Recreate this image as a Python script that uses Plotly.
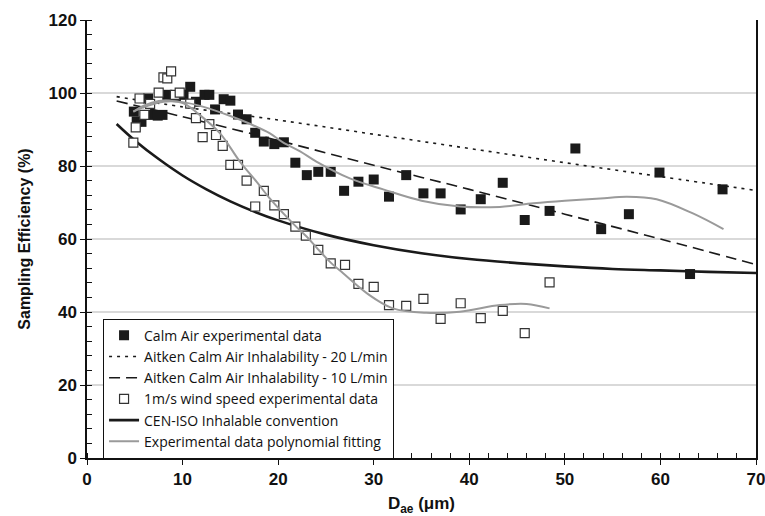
import plotly.graph_objects as go

# Calm air experimental data (filled squares)
calm_d = [4.9, 5.2, 5.7, 6.4, 6.9, 7.4, 7.9, 8.4, 9.3, 10.1, 10.8, 11.4, 12.3, 12.8, 13.4, 14.3, 15.0,
          15.8, 16.7, 17.6, 18.5, 19.6, 20.6, 21.8, 23.0, 24.2, 25.5, 26.9, 28.4, 30.0, 31.6, 33.4,
          35.2, 37.0, 39.1, 41.2, 43.5, 45.8, 48.4, 51.1, 53.8, 56.7, 59.9, 63.1, 66.5]
calm_e = [94.9, 92.2, 92.1, 98.5, 94.0, 93.8, 94.0, 99.5, 99.0, 99.5, 101.7, 97.6, 99.5, 99.5, 95.5, 98.3, 97.9,
          94.1, 92.8, 89.1, 86.7, 86.0, 86.5, 80.9, 77.5, 78.4, 78.4, 73.2, 75.7, 76.3, 71.6, 77.5,
          72.5, 72.5, 68.1, 70.9, 75.4, 65.2, 67.7, 84.8, 62.7, 66.8, 78.2, 50.4, 73.6]

# 1 m/s wind speed experimental data (hollow squares)
wind_d = [4.85, 5.1, 5.5, 6.0, 6.6, 7.5, 8.0, 8.4, 8.8, 9.2, 9.7, 10.8, 11.4, 12.1, 12.8, 13.5, 14.2,
          15.0, 15.8, 16.7, 17.6, 18.5, 19.6, 20.6, 21.8, 22.9, 24.2, 25.5, 27.0, 28.4, 30.0, 31.6,
          33.4, 35.2, 37.0, 39.1, 41.2, 43.5, 45.8, 48.4]
wind_e = [86.4, 90.6, 98.5, 94.0, 97.0, 100.1, 104.3, 104.0, 105.9, 99.5, 100.1, 97.1, 93.1, 87.9, 91.5, 88.5, 85.5,
          80.3, 80.3, 76.0, 68.9, 73.2, 69.2, 66.8, 63.4, 60.9, 57.0, 53.3, 52.9, 47.7, 46.9, 41.9,
          41.7, 43.6, 38.1, 42.4, 38.3, 40.3, 34.2, 48.1]

# Aitken calm air inhalability curves
aitken_d = [3.1, 10, 20, 30, 40, 50, 60, 70]
aitken20_e = [99.0, 96.2, 92.6, 88.7, 84.8, 80.9, 77.1, 73.3]
aitken10_e = [97.8, 93.5, 87.0, 80.2, 73.6, 66.8, 60.0, 53.0]

# CEN-ISO inhalable convention
cen_d = [3.1, 5, 7.5, 10, 12.5, 15, 17.5, 20, 25, 30, 35, 40, 45, 50, 55, 60, 65, 70]
cen_e = [91.5, 87.0, 81.9, 77.4, 73.6, 70.3, 67.5, 65.1, 61.2, 58.3, 56.1, 54.5, 53.4, 52.5, 51.8, 51.4, 51.0, 50.7]

# Polynomial fittings
fitc_d = [4.85, 6.5, 8.0, 10.0, 12.2, 15.0, 17.1, 19.1, 20.5, 22.3, 24.0, 27.5, 31.0, 35.0, 39.0, 43.2, 46.7, 50.0, 53.7, 56.5, 59.6, 63.4, 66.6]
fitc_e = [94.9, 96.6, 97.6, 97.5, 96.2, 93.7, 91.5, 89.0, 86.5, 84.0, 81.2, 76.6, 73.6, 70.5, 68.9, 68.8, 69.8, 70.5, 71.1, 71.6, 70.9, 67.0, 62.7]
fitw_d = [4.85, 6.0, 7.5, 8.7, 10.1, 11.5, 13.9, 16.0, 17.8, 19.1, 21.8, 23.0, 24.0, 25.4, 26.8, 29.3, 32.0, 35.5, 39.0, 43.2, 46.0, 48.4]
fitw_e = [94.9, 96.6, 97.8, 97.9, 97.2, 94.6, 89.0, 81.2, 75.5, 71.2, 63.6, 60.6, 57.7, 53.8, 50.6, 45.1, 41.0, 39.8, 40.1, 41.9, 42.2, 41.0]

x_ticks = [0, 10, 20, 30, 40, 50, 60, 70]
y_ticks = [0, 20, 40, 60, 80, 100, 120]
grid_vals = [20, 40, 60, 80, 100]

BLACK = "#1a1a1a"
GRAY = "#9a9a9a"
fig = go.Figure()

fig.add_trace(go.Scatter(x=cen_d, y=cen_e, mode="lines", name="CEN-ISO Inhalable convention",
                         line=dict(color=BLACK, width=2.6, shape="spline"), legendrank=5))
fig.add_trace(go.Scatter(x=aitken_d, y=aitken20_e, mode="lines", name="Aitken Calm Air Inhalability - 20 L/min",
                         line=dict(color=BLACK, width=1.6, dash="3px,5px", shape="spline"), legendrank=2))
fig.add_trace(go.Scatter(x=aitken_d, y=aitken10_e, mode="lines", name="Aitken Calm Air Inhalability - 10 L/min",
                         line=dict(color=BLACK, width=1.6, dash="11px,6px", shape="spline"), legendrank=3))
fig.add_trace(go.Scatter(x=calm_d, y=calm_e, mode="markers", name="Calm Air experimental data",
                         marker=dict(symbol="square", size=10, color=BLACK, line=dict(color=BLACK, width=0)),
                         legendrank=1))
fig.add_trace(go.Scatter(x=wind_d, y=wind_e, mode="markers", name="1m/s wind speed experimental data",
                         marker=dict(symbol="square", size=9, color="white", line=dict(color="#333333", width=1.2)),
                         legendrank=4))
fig.add_trace(go.Scatter(x=fitc_d, y=fitc_e, mode="lines", name="Experimental data polynomial fitting",
                         line=dict(color=GRAY, width=2, shape="spline"), legendrank=6))
fig.add_trace(go.Scatter(x=fitw_d, y=fitw_e, mode="lines", name="Experimental data polynomial fitting",
                         line=dict(color=GRAY, width=2, shape="spline"), showlegend=False, legendrank=7))
# invisible trace that activates the gridline axis
fig.add_trace(go.Scatter(x=[None], y=[None], yaxis="y2", showlegend=False, hoverinfo="skip"))

tickfont = dict(family="Liberation Sans, Arial", size=17, color="#111111", weight="bold")

fig.update_layout(
    width=765, height=516,
    margin=dict(l=87, r=9, t=20, b=58),
    paper_bgcolor="white", plot_bgcolor="white",
    showlegend=True,
    legend=dict(x=0.024, y=0.318, xanchor="left", yanchor="top",
                bgcolor="white", bordercolor="#111111", borderwidth=1,
                font=dict(family="Open Sans, Liberation Sans, Arial", size=14, color="#111111"),
                tracegroupgap=0, itemwidth=30),
    xaxis=dict(range=[0, 70], tickvals=x_ticks, ticks="outside", ticklen=5, tickwidth=1.2, tickcolor="#111111",
               showline=True, linecolor="#111111", linewidth=1.5, showgrid=False, zeroline=False,
               tickfont=tickfont, automargin=False, ticklabeloverflow="allow",
               minor=dict(dtick=2, ticks="inside", ticklen=5, tickcolor="#111111", tickwidth=1),
               title=dict(text="D<sub>ae</sub> (μm)",
                          font=dict(family="Liberation Sans, Arial", size=17, color="#111111", weight="bold"),
                          standoff=16)),
    yaxis=dict(range=[0, 120], tickvals=y_ticks, ticks="outside", ticklen=5, tickwidth=1.2, tickcolor="#111111",
               showline=True, linecolor="#111111", linewidth=1.5, mirror=True, showgrid=False, zeroline=False,
               tickfont=tickfont, automargin=False, ticklabeloverflow="allow",
               minor=dict(dtick=4, ticks="inside", ticklen=5, tickcolor="#111111", tickwidth=1),
               title=dict(text="Sampling Efficiency (%)",
                          font=dict(family="Liberation Sans, Arial", size=16, color="#111111", weight="bold"),
                          standoff=14)),
    yaxis2=dict(range=[0, 120], overlaying="y", tickvals=grid_vals, showgrid=True, gridcolor="#d9d9d9",
                gridwidth=1.5, showticklabels=False, ticks="", showline=False, zeroline=False,
                automargin=False),
)

fig.write_html("out.html")
